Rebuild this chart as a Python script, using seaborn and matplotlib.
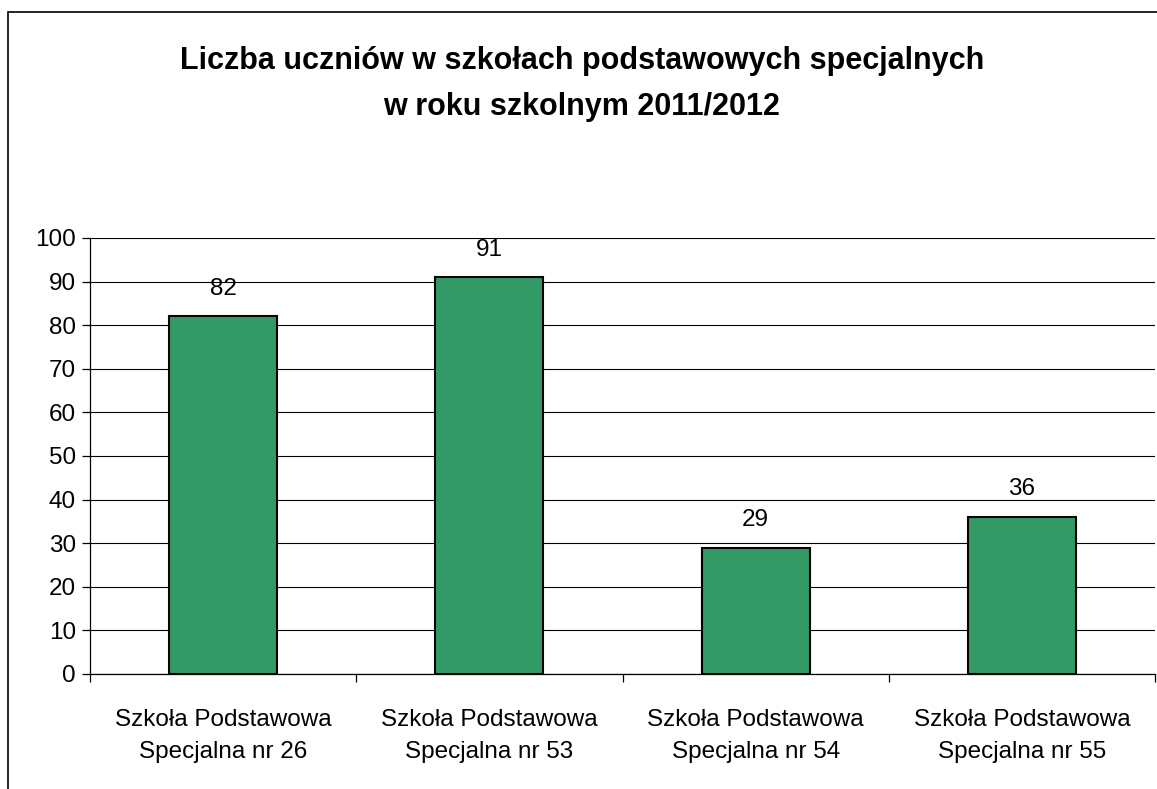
import matplotlib
matplotlib.use("Agg")
import matplotlib.pyplot as plt
import seaborn as sns
import pandas as pd
from matplotlib.patches import Rectangle

categories = ["Szkoła Podstawowa\nSpecjalna nr 26", "Szkoła Podstawowa\nSpecjalna nr 53",
              "Szkoła Podstawowa\nSpecjalna nr 54", "Szkoła Podstawowa\nSpecjalna nr 55"]
values = [82, 91, 29, 36]
title = "Liczba uczniów w szkołach podstawowych specjalnych\nw roku szkolnym 2011/2012"

sns.set_theme(style="white")
plt.rcParams['font.family'] = ['Liberation Sans', 'DejaVu Sans']

df = pd.DataFrame({"cat": categories, "val": values})
fig = plt.figure(figsize=(11.57, 7.89), dpi=100)
ax = fig.add_axes([90/1157, 1-674/789, (1155-90)/1157, (674-238)/789])

sns.barplot(data=df, x="cat", y="val", color="#339966", saturation=1, width=0.405,
            edgecolor="black", linewidth=1.5, ax=ax, zorder=3)

ax.set_ylim(0, 100)
ax.set_xlim(-0.5, len(categories) - 0.5)
ax.set_yticks(range(0, 101, 10))
ax.yaxis.grid(True, color="black", linewidth=0.8, zorder=0)
ax.set_axisbelow(True)
for s in ["top", "right"]:
    ax.spines[s].set_visible(False)
for s in ["left", "bottom"]:
    ax.spines[s].set_color("black")
    ax.spines[s].set_linewidth(0.9)
ax.tick_params(axis="y", which="major", left=True, length=6, width=0.9, color="black",
               labelsize=17.5, pad=4, labelcolor="black")
ax.tick_params(axis="x", which="major", bottom=False, labelsize=17.5, pad=19, labelcolor="black")
for lab in ax.get_xticklabels():
    lab.set_linespacing(1.62)
ax.set_xticks([i - 0.5 for i in range(len(categories) + 1)], minor=True)
ax.tick_params(axis="x", which="minor", bottom=True, length=6, width=0.9, color="black")
ax.set_xlabel("")
ax.set_ylabel("")

for i, v in enumerate(values):
    ax.annotate(str(v), (i, v), xytext=(0, 12), textcoords="offset points",
                ha="center", va="bottom", fontsize=17.5, color="black")

fig.text(582/1157, 1-84/789, title, ha="center", va="center", fontsize=22,
         fontweight="bold", color="black", linespacing=1.7)

fig.patches.append(Rectangle((8/1157, -0.05), 1.2, 1-12/789+0.05, transform=fig.transFigure,
                             fill=False, edgecolor="black", linewidth=1.2))

fig.savefig("out.png", dpi=100, facecolor="white")
